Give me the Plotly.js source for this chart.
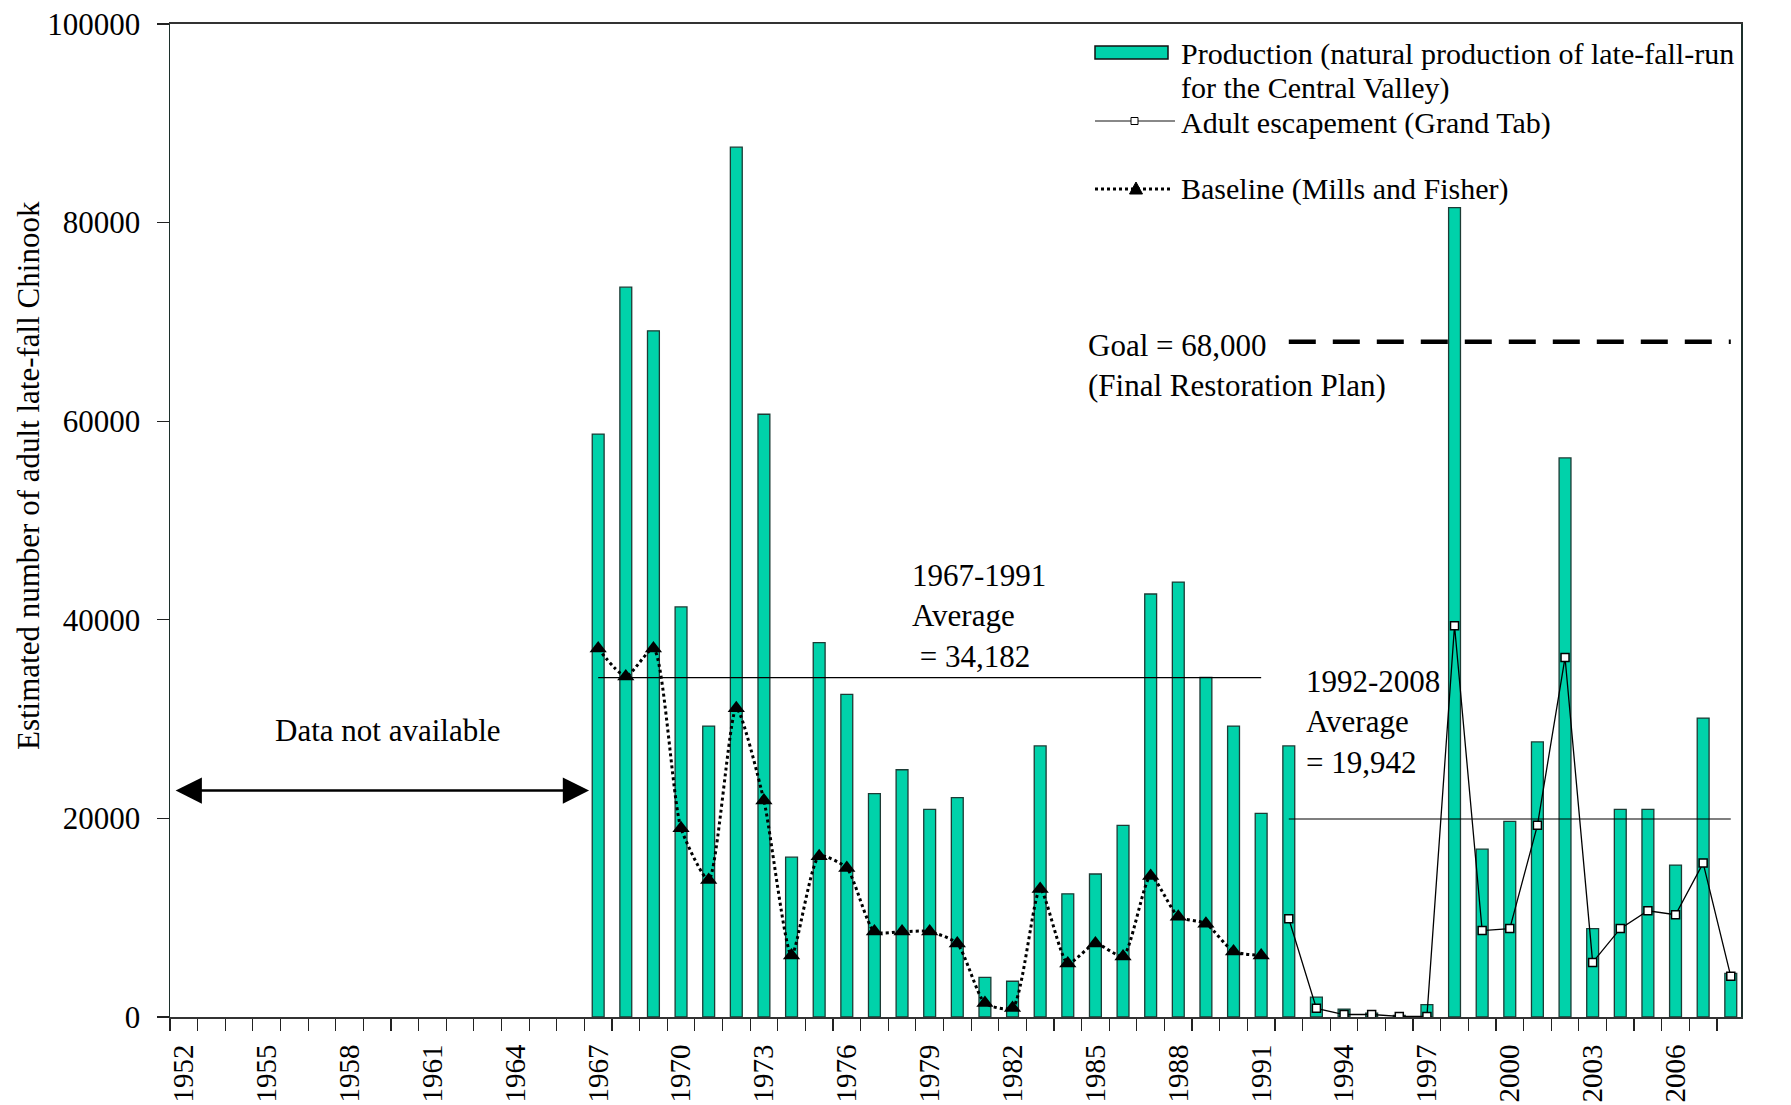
<!DOCTYPE html>
<html>
<head>
<meta charset="utf-8">
<script src="https://cdn.plot.ly/plotly-3.0.1.min.js"></script>
<style>html,body{margin:0;padding:0;background:#fff;}#chart{width:1791px;height:1105px;}</style>
</head>
<body>
<div id="chart"></div>
<script>
// ---- data ----
const years = [1967,1968,1969,1970,1971,1972,1973,1974,1975,1976,1977,1978,1979,1980,1981,1982,1983,1984,1985,1986,1987,1988,1989,1990,1991,1992,1993,1994,1995,1996,1997,1998,1999,2000,2001,2002,2003,2004,2005,2006,2007,2008];
const production = [58700,73500,69100,41300,29300,87600,60700,16100,37700,32500,22500,24900,20900,22100,4000,3600,27300,12400,14400,19300,42600,43800,34200,29300,20500,27300,2000,800,400,150,1250,81500,16900,19700,27700,56300,8900,20900,20900,15300,30100,4400];
const baselineYears = [1967,1968,1969,1970,1971,1972,1973,1974,1975,1976,1977,1978,1979,1980,1981,1982,1983,1984,1985,1986,1987,1988,1989,1990,1991];
const baseline = [37100,34300,37100,19000,13800,31100,21800,6200,16200,15000,8600,8600,8600,7400,1400,900,12900,5400,7400,6100,14200,10100,9400,6600,6200];
const escYears = [1992,1993,1994,1995,1996,1997,1998,1999,2000,2001,2002,2003,2004,2005,2006,2007,2008];
const escapement = [9900,870,250,250,60,60,39400,8700,8900,19300,36200,5500,8900,10700,10300,15500,4100];
const avg1Years = [1967,1991];
const avg1 = [34182,34182];
const avg2Years = [1992,2008];
const avg2 = [19942,19942];
const goalYears = [1992,2008];
const goal = [68000,68000];
const noDataSpan = [1951.65,1966.67];
const noDataLevel = 22800;

// ---- style / layout ----
const FONT = 'Liberation Serif, Times New Roman, serif';
const TEAL = '#00d2aa';
const W = 1791, H = 1105;
const M = {l:170, r:50, t:24, b:88};
const PW = W - M.l - M.r, PH = H - M.t - M.b;
const xp = px => (px - M.l) / PW;
const yp = py => (H - M.b - py) / PH;

const traces = [
  {type:'bar', x:years, y:production, width:0.43, name:'Production',
   marker:{color:TEAL, line:{color:'#1d3b35', width:1.3}}, showlegend:false},
  {type:'scatter', mode:'lines', x:avg1Years, y:avg1, line:{color:'#000', width:1.2}, showlegend:false},
  {type:'scatter', mode:'lines', x:avg2Years, y:avg2, line:{color:'#000', width:1.2}, showlegend:false},
  {type:'scatter', mode:'lines', x:goalYears, y:goal, line:{color:'#000', width:4.5, dash:'27px,17px'}, showlegend:false},
  {type:'scatter', mode:'lines+markers', x:baselineYears, y:baseline, name:'Baseline (Mills and Fisher)',
   line:{color:'#000', width:3, dash:'dot', shape:'spline', smoothing:0.6},
   marker:{symbol:'triangle-up', size:15, color:'#000'}, showlegend:false},
  {type:'scatter', mode:'lines+markers', x:escYears, y:escapement, name:'Adult escapement (Grand Tab)',
   line:{color:'#000', width:1.3},
   marker:{symbol:'square', size:8, color:'#fff', line:{color:'#000', width:1.5}}, showlegend:false}
];

function txt(text, x, y, opts, size) {
  return Object.assign({text:text, x:x, y:y, showarrow:false,
    font:{family:FONT, size:size || 31, color:'#000'}}, opts || {});
}
const P = {xref:'paper', yref:'paper', xanchor:'left', yanchor:'middle', borderpad:0};

const annotations = [
  txt('Estimated number of adult late-fall Chinook', xp(29), yp(476), {xref:'paper', yref:'paper', textangle:-90, xanchor:'center', yanchor:'middle'}),
  txt('Data not available', 1959.4, 28900, {xref:'x', yref:'y', xanchor:'center', yanchor:'middle'}),
  txt('1967-1991<br>Average<br>&nbsp;= 34,182', 1978.3, 40400, {xref:'x', yref:'y', xanchor:'left', yanchor:'middle', align:'left'}),
  txt('1992-2008<br>Average<br>= 19,942', 1992.55, 29700, {xref:'x', yref:'y', xanchor:'left', yanchor:'middle', align:'left'}),
  txt('Goal = 68,000<br>(Final Restoration Plan)', 1984.65, 65600, {xref:'x', yref:'y', xanchor:'left', yanchor:'middle', align:'left'}),
  // legend texts
  txt('Production (natural production of late-fall-run', xp(1180), yp(54), P, 30),
  txt('for the Central Valley)', xp(1180), yp(88), P, 30),
  txt('Adult escapement (Grand Tab)', xp(1180), yp(123), P, 30),
  txt('Baseline (Mills and Fisher)', xp(1180), yp(189), P, 30),
  // double-headed arrow
  {text:'', x:noDataSpan[1], y:noDataLevel, ax:noDataSpan[0], ay:noDataLevel, xref:'x', yref:'y', axref:'x', ayref:'y',
   showarrow:true, arrowside:'end+start', arrowhead:2, arrowsize:2.1, arrowwidth:2.5, arrowcolor:'#000', standoff:0, startstandoff:0}
];

const tri = (cx, cy) => `M${xp(cx-6.5)},${yp(cy+5)} L${xp(cx+6.5)},${yp(cy+5)} L${xp(cx)},${yp(cy-7)} Z`;
const shapes = [
  {type:'rect', xref:'paper', yref:'paper', x0:xp(1095), x1:xp(1168), y0:yp(59), y1:yp(46), fillcolor:TEAL, line:{color:'#111', width:1.5}},
  {type:'line', xref:'paper', yref:'paper', x0:xp(1095), x1:xp(1175), y0:yp(121), y1:yp(121), line:{color:'#888', width:2}},
  {type:'rect', xref:'paper', yref:'paper', x0:xp(1131), x1:xp(1138), y0:yp(124.5), y1:yp(117.5), fillcolor:'#fff', line:{color:'#000', width:1}},
  {type:'line', xref:'paper', yref:'paper', x0:xp(1095), x1:xp(1170), y0:yp(189), y1:yp(189), line:{color:'#000', width:3, dash:'dot'}},
  {type:'path', xref:'paper', yref:'paper', path:tri(1136, 189), fillcolor:'#000', line:{color:'#000', width:1}}
];

const layout = {
  width:W, height:H,
  margin:M,
  paper_bgcolor:'#fff', plot_bgcolor:'#fff',
  showlegend:false,
  bargap:0,
  font:{family:FONT, size:31, color:'#000'},
  xaxis:{
    range:[1951.5, 2008.37],
    tickmode:'linear', tick0:1952, dtick:3, tickformat:'d',
    tickangle:-90,
    ticks:'outside', ticklen:12, tickcolor:'rgba(0,0,0,0)',
    ticklabelstandoff:2,
    tickfont:{family:FONT, size:29, color:'#000'},
    showline:true, linecolor:'#333', linewidth:2, mirror:true,
    showgrid:false, zeroline:false,
    minor:{tickmode:'linear', tick0:1951.5, dtick:1, ticks:'outside', ticklen:12, tickcolor:'#222', tickwidth:1.2, showgrid:false}
  },
  yaxis:{
    range:[0, 100000],
    tickmode:'linear', tick0:0, dtick:20000, tickformat:'d',
    ticks:'outside', ticklen:12, tickcolor:'#222', tickwidth:1.2,
    ticklabelstandoff:10,
    tickfont:{family:FONT, size:31, color:'#000'},
    showline:true, linecolor:'#1c2f2b', linewidth:1.5, mirror:true,
    showgrid:false, zeroline:false
  },
  annotations:annotations,
  shapes:shapes
};

Plotly.newPlot('chart', traces, layout, {displayModeBar:false, staticPlot:true});
</script>
</body>
</html>
